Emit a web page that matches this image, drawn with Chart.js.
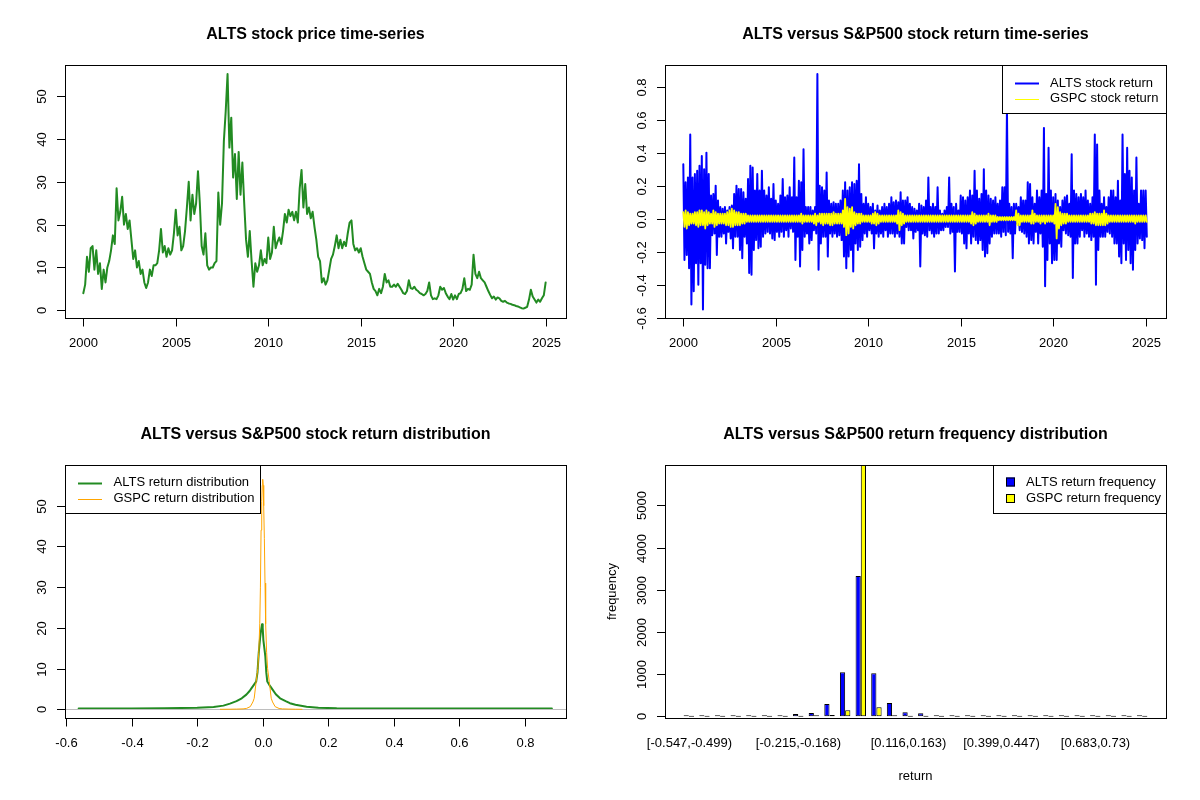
<!DOCTYPE html>
<html>
<head>
<meta charset="utf-8">
<title>ALTS versus S&amp;P500</title>
<script src="https://cdn.jsdelivr.net/npm/chart.js@4.4.1/dist/chart.umd.min.js"></script>
<style>
  body { margin: 0; background: #fff; }
  #wrap { position: relative; width: 1200px; height: 800px; }
  canvas { position: absolute; }
</style>
</head>
<body>
<div id="wrap">
  <canvas id="priceChart" width="600" height="400" style="left:0;top:0"></canvas>
  <canvas id="returnChart" width="600" height="400" style="left:600px;top:0"></canvas>
  <canvas id="densityChart" width="600" height="400" style="left:0;top:400px"></canvas>
  <canvas id="freqChart" width="600" height="400" style="left:600px;top:400px"></canvas>
</div>
<script>
// ---- data ----

// ALTS closing price, one reading every 0.1 year from 2000.0
const priceStart = 2000;
const priceStep = 0.1;
const priceValues = [
  4.0, 6.0, 12.5, 9.0, 14.5, 15.0, 9.5, 14.0, 8.5, 11.0,
  5.0, 9.5, 6.5, 10.0, 11.5, 14.0, 17.5, 15.5, 28.5, 21.0,
  23.0, 26.5, 20.0, 22.5, 19.0, 21.0, 16.5, 12.0, 14.0, 10.0,
  11.5, 8.5, 9.5, 6.5, 5.2, 6.5, 9.5, 8.0, 10.5, 10.5,
  11.0, 14.0, 19.0, 13.5, 15.0, 12.5, 14.5, 13.0, 14.0, 18.0,
  23.5, 17.5, 19.5, 14.0, 15.0, 18.5, 24.0, 30.0, 21.0, 27.0,
  22.5, 25.0, 32.5, 25.0, 15.0, 13.0, 18.0, 10.5, 9.5, 10.0,
  10.0, 11.0, 11.5, 27.5, 20.0, 25.0, 39.5, 46.5, 55.2, 38.0,
  45.0, 31.0, 36.5, 26.0, 37.0, 27.0, 34.5, 25.0, 16.5, 12.5,
  18.5, 11.5, 5.5, 11.0, 9.0, 10.5, 14.0, 10.5, 12.0, 11.0,
  17.0, 12.0, 13.5, 19.5, 14.5, 16.0, 17.0, 15.5, 18.5, 22.5,
  20.5, 23.5, 22.0, 23.0, 21.0, 23.0, 20.5, 28.5, 32.8, 24.0,
  29.5, 22.5, 24.0, 21.5, 23.0, 19.5, 16.5, 12.5, 11.5, 6.5,
  7.5, 6.0, 7.0, 9.5, 12.0, 13.0, 15.0, 17.5, 14.5, 16.5,
  14.5, 16.0, 15.0, 18.0, 20.5, 21.0, 15.5, 14.0, 14.5, 13.5,
  14.5, 12.5, 11.0, 9.5, 9.0, 8.5, 6.5, 5.0, 4.5, 3.5,
  5.0, 4.0, 5.5, 8.5, 6.5, 7.0, 5.5, 5.5, 6.0, 5.5,
  6.2, 5.5, 4.8, 4.0, 3.8, 4.5, 7.0, 5.2, 5.0, 5.5,
  4.8, 4.5, 4.0, 3.8, 3.5, 3.8, 4.5, 6.5, 3.5, 2.6,
  2.8, 2.6, 3.5, 5.5, 4.8, 5.2, 4.0, 3.2, 2.6, 3.8,
  2.5, 3.5, 2.6, 3.8, 4.0, 5.0, 7.5, 4.5, 5.0, 4.8,
  6.0, 13.0, 8.5, 7.5, 9.0, 7.5, 7.0, 6.5, 5.5, 4.5,
  3.6, 2.8, 3.2, 2.5, 3.0, 2.8, 2.2, 2.0, 2.2, 1.8,
  1.6, 1.5, 1.3, 1.2, 1.0, 0.9, 0.7, 0.5, 0.4, 0.6,
  0.8, 2.5, 4.8, 3.2, 2.5, 1.8, 2.5, 2.0, 2.8, 3.5,
  6.5
];

// daily returns: highest and lowest value in each 1/8-year window from 2000.0
const returnStart = 2000;
const returnStep = 0.125;
const altsHigh = [
  0.33, 0.22, 0.25, 0.51, 0.25, 0.27, 0.29, 0.32,   // 2000
  0.38, 0.30, 0.40, 0.27, 0.14, 0.15, 0.20, 0.11,   // 2001
  0.07, 0.06, 0.07, 0.05, 0.07, 0.08, 0.15, 0.20,   // 2002
  0.18, 0.18, 0.16, 0.12, 0.24, 0.32, 0.31, 0.17,   // 2003
  0.27, 0.17, 0.29, 0.17, 0.14, 0.19, 0.12, 0.21,   // 2004
  0.11, 0.09, 0.14, 0.24, 0.13, 0.14, 0.19, 0.13,   // 2005
  0.37, 0.13, 0.23, 0.22, 0.42, 0.07, 0.07, 0.07,   // 2006
  0.05, 0.07, 0.877, 0.20, 0.19, 0.17, 0.28, 0.11,  // 2007
  0.09, 0.10, 0.09, 0.09, 0.11, 0.17, 0.22, 0.17,   // 2008
  0.19, 0.22, 0.21, 0.23, 0.33, 0.15, 0.09, 0.13,   // 2009
  0.09, 0.07, 0.09, 0.05, 0.08, 0.05, 0.07, 0.09,   // 2010
  0.07, 0.09, 0.13, 0.10, 0.11, 0.10, 0.16, 0.11,   // 2011
  0.11, 0.13, 0.09, 0.07, 0.06, 0.05, 0.09, 0.08,   // 2012
  0.07, 0.11, 0.25, 0.07, 0.09, 0.07, 0.19, 0.05,   // 2013
  0.03, 0.05, 0.07, 0.25, 0.09, 0.07, 0.09, 0.05,   // 2014
  0.14, 0.13, 0.11, 0.13, 0.17, 0.14, 0.29, 0.17,   // 2015
  0.12, 0.15, 0.30, 0.17, 0.14, 0.12, 0.11, 0.13,   // 2016
  0.09, 0.11, 0.19, 0.19, 0.66, 0.09, 0.07, 0.09,   // 2017
  0.09, 0.07, 0.13, 0.11, 0.11, 0.22, 0.21, 0.13,   // 2018
  0.09, 0.17, 0.13, 0.17, 0.55, 0.15, 0.43, 0.17,   // 2019
  0.13, 0.15, 0.11, 0.07, 0.11, 0.13, 0.14, 0.09,   // 2020
  0.39, 0.17, 0.15, 0.13, 0.15, 0.13, 0.17, 0.11,   // 2021
  0.09, 0.13, 0.51, 0.45, 0.17, 0.09, 0.13, 0.07,   // 2022
  0.13, 0.17, 0.17, 0.13, 0.23, 0.11, 0.51, 0.27,   // 2023
  0.43, 0.29, 0.25, 0.17, 0.37, 0.09, 0.17, 0.17,   // 2024
  0.17                                              // 2025
];
const altsLow = [
  -0.25, -0.22, -0.30, -0.52, -0.44, -0.27, -0.40, -0.27,
  -0.55, -0.28, -0.30, -0.30, -0.10, -0.09, -0.22, -0.11,
  -0.11, -0.09, -0.15, -0.08, -0.12, -0.18, -0.11, -0.11,
  -0.19, -0.24, -0.11, -0.15, -0.33, -0.34, -0.19, -0.13,
  -0.18, -0.17, -0.11, -0.09, -0.08, -0.09, -0.12, -0.13,
  -0.08, -0.11, -0.08, -0.11, -0.07, -0.11, -0.06, -0.08,
  -0.25, -0.11, -0.29, -0.19, -0.11, -0.09, -0.15, -0.13,
  -0.07, -0.09, -0.31, -0.15, -0.11, -0.11, -0.23, -0.09,
  -0.11, -0.09, -0.11, -0.10, -0.13, -0.23, -0.30, -0.23,
  -0.19, -0.32, -0.15, -0.19, -0.17, -0.13, -0.09, -0.11,
  -0.07, -0.09, -0.18, -0.09, -0.11, -0.09, -0.11, -0.07,
  -0.11, -0.09, -0.09, -0.11, -0.09, -0.11, -0.15, -0.15,
  -0.05, -0.07, -0.07, -0.12, -0.08, -0.07, -0.29, -0.09,
  -0.10, -0.11, -0.07, -0.09, -0.11, -0.09, -0.09, -0.07,
  -0.07, -0.05, -0.05, -0.09, -0.08, -0.32, -0.08, -0.08,
  -0.09, -0.15, -0.18, -0.09, -0.15, -0.11, -0.13, -0.15,
  -0.13, -0.19, -0.23, -0.21, -0.15, -0.11, -0.09, -0.09,
  -0.09, -0.11, -0.08, -0.10, -0.08, -0.09, -0.24, -0.09,
  -0.03, -0.07, -0.08, -0.09, -0.11, -0.15, -0.13, -0.15,
  -0.08, -0.15, -0.09, -0.17, -0.41, -0.25, -0.15, -0.27,
  -0.25, -0.25, -0.15, -0.17, -0.07, -0.09, -0.10, -0.11,
  -0.36, -0.15, -0.15, -0.11, -0.07, -0.11, -0.09, -0.11,
  -0.13, -0.11, -0.40, -0.19, -0.11, -0.11, -0.11, -0.08,
  -0.09, -0.11, -0.15, -0.15, -0.23, -0.27, -0.15, -0.25,
  -0.19, -0.27, -0.31, -0.19, -0.15, -0.12, -0.13, -0.18,
  -0.11
];
const gspcHigh = [
  0.04, 0.05, 0.04, 0.03, 0.03, 0.04, 0.04, 0.05,
  0.05, 0.04, 0.05, 0.04, 0.03, 0.05, 0.04, 0.03,
  0.03, 0.03, 0.03, 0.04, 0.05, 0.06, 0.05, 0.04,
  0.04, 0.03, 0.03, 0.03, 0.02, 0.02, 0.02, 0.02,
  0.02, 0.02, 0.02, 0.02, 0.02, 0.02, 0.02, 0.02,
  0.02, 0.02, 0.02, 0.02, 0.02, 0.02, 0.02, 0.02,
  0.02, 0.02, 0.02, 0.03, 0.02, 0.02, 0.02, 0.02,
  0.02, 0.03, 0.02, 0.03, 0.03, 0.03, 0.03, 0.03,
  0.03, 0.04, 0.03, 0.03, 0.03, 0.05, 0.12, 0.07,
  0.06, 0.07, 0.04, 0.03, 0.03, 0.03, 0.02, 0.02,
  0.02, 0.02, 0.03, 0.04, 0.03, 0.02, 0.02, 0.02,
  0.02, 0.02, 0.02, 0.02, 0.02, 0.05, 0.04, 0.03,
  0.02, 0.02, 0.02, 0.02, 0.02, 0.02, 0.02, 0.02,
  0.02, 0.02, 0.02, 0.02, 0.02, 0.02, 0.02, 0.02,
  0.02, 0.02, 0.02, 0.02, 0.02, 0.02, 0.02, 0.02,
  0.02, 0.02, 0.02, 0.02, 0.02, 0.04, 0.03, 0.02,
  0.02, 0.02, 0.02, 0.02, 0.03, 0.02, 0.02, 0.02,
  0.01, 0.01, 0.01, 0.01, 0.01, 0.01, 0.01, 0.01,
  0.05, 0.03, 0.02, 0.02, 0.02, 0.02, 0.02, 0.05,
  0.03, 0.02, 0.02, 0.02, 0.02, 0.02, 0.02, 0.02,
  0.02, 0.09, 0.07, 0.04, 0.03, 0.03, 0.03, 0.02,
  0.02, 0.02, 0.02, 0.02, 0.02, 0.02, 0.02, 0.02,
  0.03, 0.03, 0.04, 0.03, 0.03, 0.03, 0.05, 0.03,
  0.02, 0.02, 0.02, 0.02, 0.02, 0.02, 0.02, 0.02,
  0.02, 0.02, 0.02, 0.02, 0.02, 0.02, 0.02, 0.02,
  0.02
];
const gspcLow = [
  -0.05, -0.06, -0.04, -0.03, -0.03, -0.04, -0.05, -0.04,
  -0.04, -0.06, -0.04, -0.03, -0.03, -0.05, -0.04, -0.03,
  -0.03, -0.03, -0.04, -0.04, -0.05, -0.05, -0.04, -0.04,
  -0.04, -0.03, -0.03, -0.02, -0.02, -0.02, -0.02, -0.02,
  -0.02, -0.02, -0.02, -0.02, -0.02, -0.02, -0.02, -0.02,
  -0.02, -0.02, -0.02, -0.02, -0.02, -0.02, -0.02, -0.02,
  -0.02, -0.02, -0.02, -0.03, -0.02, -0.02, -0.02, -0.02,
  -0.03, -0.04, -0.02, -0.03, -0.04, -0.03, -0.03, -0.04,
  -0.04, -0.03, -0.03, -0.03, -0.03, -0.05, -0.10, -0.09,
  -0.05, -0.06, -0.04, -0.03, -0.03, -0.02, -0.02, -0.02,
  -0.02, -0.03, -0.03, -0.04, -0.03, -0.02, -0.02, -0.02,
  -0.02, -0.02, -0.02, -0.02, -0.03, -0.07, -0.04, -0.03,
  -0.02, -0.02, -0.02, -0.02, -0.02, -0.02, -0.02, -0.02,
  -0.02, -0.02, -0.02, -0.02, -0.02, -0.02, -0.02, -0.02,
  -0.02, -0.02, -0.02, -0.02, -0.02, -0.02, -0.02, -0.02,
  -0.02, -0.02, -0.02, -0.02, -0.03, -0.04, -0.03, -0.02,
  -0.02, -0.02, -0.02, -0.02, -0.04, -0.02, -0.02, -0.02,
  -0.01, -0.01, -0.01, -0.01, -0.01, -0.01, -0.01, -0.01,
  -0.04, -0.04, -0.02, -0.02, -0.02, -0.02, -0.03, -0.03,
  -0.02, -0.02, -0.03, -0.02, -0.03, -0.02, -0.02, -0.02,
  -0.03, -0.12, -0.06, -0.04, -0.03, -0.03, -0.02, -0.02,
  -0.02, -0.02, -0.02, -0.02, -0.02, -0.02, -0.02, -0.02,
  -0.03, -0.03, -0.04, -0.04, -0.04, -0.04, -0.04, -0.03,
  -0.02, -0.02, -0.02, -0.02, -0.02, -0.02, -0.02, -0.02,
  -0.02, -0.02, -0.02, -0.03, -0.02, -0.02, -0.02, -0.02,
  -0.02
];

// kernel density of the returns
const altsDensityX = [-0.562, -0.5, -0.4, -0.3, -0.25, -0.2, -0.15, -0.12, -0.1, -0.08, -0.064, -0.05, -0.04,
  -0.034, -0.027, -0.02, -0.016, -0.012, -0.008, -0.004, -0.002, 0.0, 0.002, 0.005, 0.008, 0.011, 0.014,
  0.02, 0.027, 0.04, 0.053, 0.07, 0.083, 0.1, 0.134, 0.17, 0.226, 0.3, 0.4, 0.5, 0.6, 0.7, 0.8, 0.883];
const altsDensityY = [0.2, 0.2, 0.2, 0.25, 0.3, 0.35, 0.55, 0.9, 1.4, 2.0, 2.7, 3.6, 4.5,
  5.2, 6.0, 6.8, 9.0, 14.0, 17.5, 20.0, 20.9, 20.0, 17.0, 15.0, 13.0, 9.0, 6.8,
  6.0, 5.2, 3.7, 2.7, 2.0, 1.5, 1.1, 0.65, 0.4, 0.25, 0.2, 0.2, 0.2, 0.2, 0.2, 0.2, 0.2];
const gspcDensityX = [-0.13, -0.1, -0.08, -0.06, -0.05, -0.038, -0.03, -0.026, -0.02, -0.015, -0.012, -0.009,
  -0.007, -0.005, -0.003, -0.0015, 0.0, 0.0015, 0.003, 0.005, 0.007, 0.009, 0.012, 0.015, 0.02, 0.026,
  0.03, 0.038, 0.05, 0.06, 0.08, 0.1, 0.12];
const gspcDensityY = [0.0, 0.02, 0.05, 0.1, 0.2, 0.65, 1.8, 2.7, 6.8, 10.0, 14.0, 21.0,
  30.0, 44.0, 51.0, 55.0, 56.5, 55.0, 50.0, 42.0, 31.0, 21.0, 14.0, 10.0, 6.8, 2.7,
  1.8, 0.65, 0.2, 0.1, 0.05, 0.02, 0.0];

// return frequency per bin
const freqCategories = [
  '[-0.547,-0.499)', '[-0.499,-0.452)', '[-0.452,-0.404)', '[-0.404,-0.357)', '[-0.357,-0.31)',
  '[-0.31,-0.263)', '[-0.263,-0.215)', '[-0.215,-0.168)', '[-0.168,-0.121)', '[-0.121,-0.0735)',
  '[-0.0735,-0.0262)', '[-0.0262,0.0211)', '[0.0211,0.0684)', '[0.0684,0.116)', '[0.116,0.163)',
  '[0.163,0.21)', '[0.21,0.257)', '[0.257,0.305)', '[0.305,0.352)', '[0.352,0.399)',
  '[0.399,0.447)', '[0.447,0.494)', '[0.494,0.541)', '[0.541,0.588)', '[0.588,0.636)',
  '[0.636,0.683)', '[0.683,0.73)', '[0.73,0.778)', '[0.778,0.825)', '[0.825,0.872]'
];
const altsFreq = [1, 2, 3, 5, 18, 22, 24, 55, 79, 292, 1043, 3325, 1019, 316, 95,
  71, 24, 20, 18, 14, 6, 4, 3, 2, 2, 1, 2, 1, 1, 1];
const gspcFreq = [0, 0, 0, 0, 0, 0, 0, 0, 2, 32, 142, 5960, 213, 4, 0,
  0, 0, 0, 0, 0, 0, 0, 0, 0, 0, 0, 0, 0, 0, 0];
const freqShownLabels = [0, 7, 14, 20, 26];

// tick labels
const yearTicks = [2000, 2005, 2010, 2015, 2020, 2025];
const priceTicks = [0, 10, 20, 30, 40, 50];
const returnTicks = [-0.6, -0.4, -0.2, 0.0, 0.2, 0.4, 0.6, 0.8];
const returnTickLabels = ['-0.6', '-0.4', '-0.2', '0.0', '0.2', '0.4', '0.6', '0.8'];
const densityTicks = [0, 10, 20, 30, 40, 50];
const freqTicks = [0, 1000, 2000, 3000, 4000, 5000];

// ---- drawing helpers ----
const FONT = '"Liberation Sans", Arial, Helvetica, sans-serif';
const BOX = { l: 65, t: 65, r: 566, b: 318 };

function hline(ctx, x0, x1, y) {
  ctx.beginPath(); ctx.moveTo(x0, y); ctx.lineTo(x1, y); ctx.stroke();
}

function drawLegend(ctx, chart, lg) {
  ctx.fillStyle = '#fff';
  ctx.fillRect(lg.x0, BOX.t, lg.x1 - lg.x0, lg.y1 - BOX.t);
  ctx.strokeStyle = '#000';
  ctx.lineWidth = 1;
  ctx.strokeRect(lg.x0 + 0.5, BOX.t + 0.5, lg.x1 - lg.x0, lg.y1 - BOX.t);
  ctx.font = '13px ' + FONT;
  ctx.textAlign = 'left';
  ctx.textBaseline = 'middle';
  chart.data.datasets.forEach((ds, i) => {
    const y = lg.rows[i];
    if (lg.kind === 'line') {
      ctx.strokeStyle = ds.borderColor;
      ctx.lineWidth = lg.widths[i];
      hline(ctx, lg.sample[0], lg.sample[1], Math.round(y) + 0.5);
    } else {
      ctx.fillStyle = ds.backgroundColor;
      ctx.fillRect(lg.sample[0], y - 4.5, lg.sample[1] - lg.sample[0], 9);
      ctx.strokeStyle = '#000';
      ctx.lineWidth = 1;
      ctx.strokeRect(lg.sample[0] + 0.5, y - 4, lg.sample[1] - lg.sample[0] - 1, 8);
    }
    ctx.fillStyle = '#000';
    ctx.fillText(ds.label, lg.textX, y);
  });
}

// base-graphics look: box, outside ticks, rotated y labels, legend, titles
function rFrame(cfg) {
  return {
    id: 'rFrame',
    afterDatasetDraw(chart, args) {
      if (cfg.zeroLine && args.index === cfg.zeroLine.after) {
        const ctx = chart.ctx;
        const y = Math.round(chart.scales.y.getPixelForValue(0)) + 0.5;
        ctx.save();
        ctx.strokeStyle = cfg.zeroLine.color;
        ctx.lineWidth = 1;
        hline(ctx, BOX.l, BOX.r, y);
        ctx.restore();
      }
    },
    afterDraw(chart) {
      const ctx = chart.ctx;
      const xs = chart.scales.x, ys = chart.scales.y;
      ctx.save();
      if (cfg.legend) drawLegend(ctx, chart, cfg.legend);

      ctx.strokeStyle = '#000';
      ctx.lineWidth = 1;
      ctx.strokeRect(BOX.l + 0.5, BOX.t + 0.5, BOX.r - BOX.l, BOX.b - BOX.t);

      ctx.fillStyle = '#000';
      ctx.textAlign = 'center';
      ctx.textBaseline = 'middle';
      ctx.font = 'bold 16px ' + FONT;
      ctx.fillText(cfg.title, (BOX.l + BOX.r) / 2, 34.5);

      ctx.font = '13px ' + FONT;
      cfg.xTicks.values.forEach((v, i) => {
        const x = Math.round(xs.getPixelForValue(v)) + 0.5;
        if (cfg.xTicks.marks) {
          ctx.beginPath(); ctx.moveTo(x, BOX.b + 0.5); ctx.lineTo(x, BOX.b + 8.5); ctx.stroke();
        }
        ctx.fillText(cfg.xTicks.labels[i], x, 343);
      });
      cfg.yTicks.values.forEach((v, i) => {
        const y = Math.round(ys.getPixelForValue(v)) + 0.5;
        hline(ctx, BOX.l - 8, BOX.l, y);
        ctx.save();
        ctx.translate(42.5, y);
        ctx.rotate(-Math.PI / 2);
        ctx.fillText(cfg.yTicks.labels[i], 0, 0);
        ctx.restore();
      });
      if (cfg.xTitle) ctx.fillText(cfg.xTitle, (BOX.l + BOX.r) / 2, 376);
      if (cfg.yTitle) {
        ctx.save();
        ctx.translate(12, (BOX.t + BOX.b) / 2);
        ctx.rotate(-Math.PI / 2);
        ctx.fillText(cfg.yTitle, 0, 0);
        ctx.restore();
      }
      ctx.restore();
    }
  };
}

function baseOptions(xScale, yScale, padding) {
  return {
    responsive: false,
    animation: false,
    devicePixelRatio: 1,
    layout: { padding: padding },
    plugins: { legend: { display: false }, tooltip: { enabled: false } },
    scales: { x: Object.assign({ display: false }, xScale), y: Object.assign({ display: false }, yScale) }
  };
}

const linePad = { left: BOX.l, top: BOX.t, right: 600 - BOX.r, bottom: 400 - BOX.b };
const lineStyle = { pointRadius: 0, tension: 0, fill: false, borderJoinStyle: 'round', borderCapStyle: 'round' };

// ---- 1. price time-series ----
const pricePoints = priceValues.map((v, i) => ({ x: priceStart + i * priceStep, y: v }));
new Chart(document.getElementById('priceChart'), {
  type: 'line',
  data: {
    datasets: [Object.assign({ label: 'ALTS', data: pricePoints, borderColor: '#228B22', borderWidth: 2 }, lineStyle)]
  },
  options: baseOptions({ type: 'linear', min: 1999.01, max: 2026.1 }, { type: 'linear', min: -1.8, max: 57.3 }, linePad),
  plugins: [rFrame({
    title: 'ALTS stock price time-series',
    xTicks: { values: yearTicks, labels: yearTicks.map(String), marks: true },
    yTicks: { values: priceTicks, labels: priceTicks.map(String) }
  })]
});

// ---- 2. return time-series ----
function envelope(highs, lows) {
  const pts = [];
  highs.forEach((h, i) => {
    const t = returnStart + i * returnStep;
    pts.push({ x: t, y: h });
    pts.push({ x: t + returnStep / 2, y: lows[i] });
  });
  return pts;
}
new Chart(document.getElementById('returnChart'), {
  type: 'line',
  data: {
    datasets: [
      Object.assign({ label: 'ALTS stock return', data: envelope(altsHigh, altsLow), borderColor: '#0000FF', borderWidth: 2, order: 1 }, lineStyle),
      Object.assign({ label: 'GSPC stock return', data: envelope(gspcHigh, gspcLow), borderColor: '#FFFF00', borderWidth: 1.8, order: 0 }, lineStyle)
    ]
  },
  options: baseOptions({ type: 'linear', min: 1999.01, max: 2026.1 }, { type: 'linear', min: -0.602, max: 0.931 }, linePad),
  plugins: [rFrame({
    title: 'ALTS versus S&P500 stock return time-series',
    xTicks: { values: yearTicks, labels: yearTicks.map(String), marks: true },
    yTicks: { values: returnTicks, labels: returnTickLabels },
    legend: { kind: 'line', x0: 402, x1: 566, y1: 113, sample: [415, 439], widths: [2, 1], textX: 450, rows: [83, 98.5] }
  })]
});

// ---- 3. return density ----
new Chart(document.getElementById('densityChart'), {
  type: 'line',
  data: {
    datasets: [
      Object.assign({ label: 'ALTS return distribution', data: altsDensityX.map((x, i) => ({ x: x, y: altsDensityY[i] })), borderColor: '#228B22', borderWidth: 2, order: 1 }, lineStyle),
      Object.assign({ label: 'GSPC return distribution', data: gspcDensityX.map((x, i) => ({ x: x, y: gspcDensityY[i] })), borderColor: '#FFA500', borderWidth: 1, order: 0 }, lineStyle)
    ]
  },
  options: baseOptions({ type: 'linear', min: -0.6037, max: 0.9261 }, { type: 'linear', min: -2.14, max: 60.0 }, linePad),
  plugins: [rFrame({
    title: 'ALTS versus S&P500 stock return distribution',
    xTicks: { values: returnTicks, labels: returnTickLabels, marks: true },
    yTicks: { values: densityTicks, labels: densityTicks.map(String) },
    zeroLine: { after: 0, color: '#BEBEBE' },
    legend: { kind: 'line', x0: 65, x1: 260, y1: 113, sample: [78, 102], widths: [2, 1], textX: 113.5, rows: [82.5, 98.5] }
  })]
});

// ---- 4. frequency bars ----
const barStyle = { borderColor: '#000', borderWidth: 1, borderSkipped: false, minBarLength: 1, categoryPercentage: 2 / 3, barPercentage: 1, clip: 0 };
new Chart(document.getElementById('freqChart'), {
  type: 'bar',
  data: {
    labels: freqCategories,
    datasets: [
      Object.assign({ label: 'ALTS return frequency', data: altsFreq, backgroundColor: '#0000FF' }, barStyle),
      Object.assign({ label: 'GSPC return frequency', data: gspcFreq, backgroundColor: '#FFFF00' }, barStyle)
    ]
  },
  options: baseOptions({ type: 'category' }, { type: 'linear', min: -40, max: 5955 }, { left: 81, top: BOX.t, right: 50, bottom: 400 - BOX.b }),
  plugins: [rFrame({
    title: 'ALTS versus S&P500 return frequency distribution',
    xTicks: { values: freqShownLabels, labels: freqShownLabels.map(i => freqCategories[i]), marks: false },
    yTicks: { values: freqTicks, labels: freqTicks.map(String) },
    xTitle: 'return',
    yTitle: 'frequency',
    legend: { kind: 'box', x0: 393, x1: 566, y1: 113, sample: [406, 415], textX: 426, rows: [82, 98.5] }
  })]
});
</script>
</body>
</html>
